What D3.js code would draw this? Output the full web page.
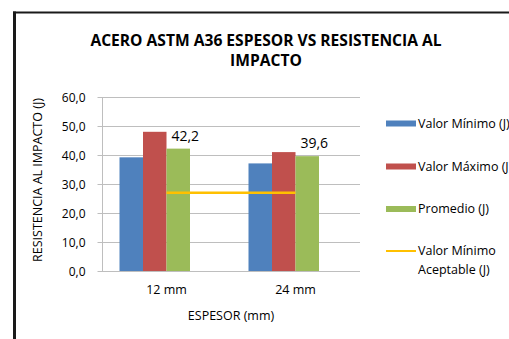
<!DOCTYPE html>
<html>
<head>
<meta charset="utf-8">
<script src="https://cdn.jsdelivr.net/npm/d3@7"></script>
<style>
  html, body { margin: 0; padding: 0; background: #fff; }
  svg { display: block; }
  text { font-family: "Open Sans", sans-serif; fill: #000; }
</style>
</head>
<body>
<svg id="chart" width="509" height="339"></svg>
<script>
// ---- data ----
const categories = ["12 mm", "24 mm"];
const seriesNames = ["Valor Mínimo (J)", "Valor Máximo (J)", "Promedio (J)"];
const minValues = [39.2, 37.1];
const maxValues = [48.0, 41.0];
const avgValues = [42.2, 39.6];
const acceptableValues = [27.0, 27.0];
const lineName = ["Valor Mínimo", "Aceptable (J)"];
const yTicks = [0, 10, 20, 30, 40, 50, 60];
const titleLines = ["ACERO ASTM A36 ESPESOR VS RESISTENCIA AL", "IMPACTO"];
const xTitle = "ESPESOR (mm)";
const yTitle = "RESISTENCIA AL IMPACTO (J)";

const colors = ["#4f81bd", "#c0504d", "#9bbb59"];
const lineColor = "#ffc000";

const svg = d3.select("#chart");

// outer chart border
svg.append("line").attr("x1", 13).attr("x2", 509).attr("y1", 12.5).attr("y2", 12.5)
  .attr("stroke", "#1a1a1a").attr("stroke-width", 2);
svg.append("line").attr("x1", 14.5).attr("x2", 14.5).attr("y1", 11.5).attr("y2", 339)
  .attr("stroke", "#1a1a1a").attr("stroke-width", 3);

const plot = { left: 102, right: 360, top: 97, bottom: 271 };

const x = d3.scaleBand().domain(categories).range([plot.left, plot.right]);
// four slots per group (the line series occupies an empty fourth slot)
const slots = d3.scaleBand().domain([0, 1, 2, 3]).range([0, 94]);
const groupOffset = (x.bandwidth() - 94) / 2;
const y = d3.scaleLinear().domain([0, 60]).range([plot.bottom, plot.top]);

// gridlines
svg.append("g").selectAll("line").data(yTicks.filter(d => d > 0)).join("line")
  .attr("x1", plot.left).attr("x2", plot.right)
  .attr("y1", d => Math.round(y(d)) + 0.5).attr("y2", d => Math.round(y(d)) + 0.5)
  .attr("stroke", "#bebebe").attr("stroke-width", 1);

// y axis
const yAxis = d3.axisLeft(y).tickValues(yTicks)
  .tickFormat(d => d3.format(".1f")(d).replace(".", ","))
  .tickSize(5).tickPadding(12);
const gy = svg.append("g").attr("transform", `translate(${plot.left + 0.5},0)`).call(yAxis);
gy.select(".domain").attr("stroke", "#bebebe").attr("d", `M0,${plot.top}V${plot.bottom}`);
gy.selectAll(".tick line").attr("stroke", "#bebebe");
gy.selectAll(".tick").attr("transform", d => `translate(0,${Math.round(y(d)) + 0.5})`);
gy.selectAll(".tick text").style("font-family", "Open Sans, sans-serif")
  .style("font-size", "12px").attr("fill", "#000").attr("dy", "0.35em");

// x axis
const xAxis = d3.axisBottom(x).tickSize(0).tickPadding(14);
const gx = svg.append("g").attr("transform", `translate(0,${plot.bottom + 0.5})`).call(xAxis);
gx.select(".domain").attr("stroke", "#bebebe").attr("d", `M${plot.left},0H${plot.right}`);
gx.selectAll(".tick text").style("font-family", "Open Sans, sans-serif")
  .style("font-size", "12.5px").attr("fill", "#000");

// bars
const seriesValues = [minValues, maxValues, avgValues];
seriesValues.forEach((vals, si) => {
  svg.append("g").selectAll("rect").data(categories).join("rect")
    .attr("x", (c) => x(c) + groupOffset + slots(si))
    .attr("width", slots.bandwidth())
    .attr("y", (c, i) => y(vals[i]))
    .attr("height", (c, i) => y(0) - y(vals[i]))
    .attr("fill", colors[si]);
});

// data labels on average bars
svg.append("g").selectAll("text").data(categories).join("text")
  .attr("x", (c) => x(c) + groupOffset + slots(2) + slots.bandwidth() / 2 + 7)
  .attr("y", (c, i) => y(avgValues[i]) - 8)
  .attr("text-anchor", "middle")
  .style("font-size", "14px")
  .text((c, i) => d3.format(".1f")(avgValues[i]).replace(".", ","));

// acceptable line
const lineGen = d3.line().x(d => x(d.c) + x.bandwidth() / 2).y(d => y(d.v));
svg.append("path")
  .datum(categories.map((c, i) => ({ c, v: acceptableValues[i] })))
  .attr("d", lineGen).attr("fill", "none").attr("stroke", lineColor).attr("stroke-width", 2.5);

// title
svg.append("text").attr("x", 266).attr("y", 46).attr("text-anchor", "middle")
  .style("font-size", "15.6px").style("font-weight", "bold").text(titleLines[0]);
svg.append("text").attr("x", 266).attr("y", 66).attr("text-anchor", "middle")
  .style("font-size", "15.6px").style("font-weight", "bold").text(titleLines[1]);

// axis titles
svg.append("text").attr("x", (plot.left + plot.right) / 2).attr("y", 320)
  .attr("text-anchor", "middle").style("font-size", "12.5px").text(xTitle);
svg.append("text").attr("transform", `translate(42,${(plot.top + plot.bottom) / 2 - 4}) rotate(-90)`)
  .attr("text-anchor", "middle").style("font-size", "12.5px").text(yTitle);

// legend
const legY = [123.5, 166.5, 209, 251];
const leg = svg.append("g");
seriesNames.forEach((n, i) => {
  leg.append("rect").attr("x", 386).attr("y", legY[i] - 3).attr("width", 30).attr("height", 6)
    .attr("fill", colors[i]);
  leg.append("text").attr("x", 418).attr("y", legY[i]).attr("dy", "0.35em")
    .style("font-size", "12.5px").text(n);
});
leg.append("line").attr("x1", 386).attr("x2", 416).attr("y1", legY[3]).attr("y2", legY[3])
  .attr("stroke", lineColor).attr("stroke-width", 2);
leg.append("text").attr("x", 418).attr("y", legY[3]).attr("dy", "0.35em")
  .style("font-size", "12.5px").text(lineName[0]);
leg.append("text").attr("x", 418).attr("y", legY[3] + 19).attr("dy", "0.35em")
  .style("font-size", "12.5px").text(lineName[1]);
</script>
</body>
</html>
